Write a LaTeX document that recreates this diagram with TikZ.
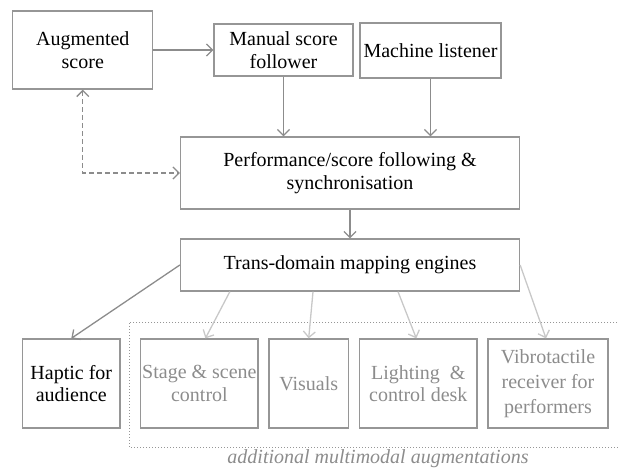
\documentclass[tikz,border=0pt]{standalone}
\usepackage{fontspec}
\setmainfont{Liberation Serif}
\usepackage{xcolor}
\usetikzlibrary{arrows.meta}

\definecolor{boxgray}{RGB}{150,150,150}
\definecolor{arrgray}{RGB}{140,140,140}
\definecolor{lightarr}{RGB}{200,200,200}
\definecolor{lighttext}{RGB}{140,140,140}

\begin{document}
\begin{tikzpicture}[x=1pt,y=-1pt,
    box/.style={draw=boxgray,line width=1.3pt,align=center,inner sep=0pt,
      font=\rmfamily\fontsize{20}{22.5}\selectfont},
    addbox/.style={box,text=lighttext},
    arr/.style={draw=arrgray,line width=1.3pt,-{Straight Barb[length=6pt,width=12pt]}},
    lightarr/.style={arr,draw=lightarr},
    dasharr/.style={arr,dash pattern=on 5pt off 3pt,{Straight Barb[length=6pt,width=12pt]}-{Straight Barb[length=6pt,width=12pt]}}]
                  \useasboundingbox (0,0) rectangle (618,470);
                  % blocks
                  \node[box,minimum width=140pt,minimum height=78pt] (aug) at (82.8,50) {Augmented\\score};
                  \node[box,minimum width=139pt,minimum height=52pt] (manual) at (283.5,50) {Manual score\\follower};
                  \node[box,minimum width=141pt,minimum height=55pt] (machine) at (430.5,50.5) {Machine listener};
                  \node[box,minimum width=339pt,minimum height=72pt] (perf) at (350,173) {Performance/score following \&\\synchronisation};
                  \node[box,minimum width=339pt,minimum height=52pt] (trans) at (350,265) {Trans-domain mapping engines};
                  \node[box,minimum width=97.5pt,minimum height=89pt] (haptic) at (71.3,383.5) {Haptic for\\audience};
                  \node[addbox,minimum width=117.3pt,minimum height=89pt] (stage) at (199.4,383.5) {Stage \& scene\\control};
                  \node[addbox,minimum width=79.4pt,minimum height=89pt] (visuals) at (308.7,383.5) {Visuals};
                  \node[addbox,minimum width=117.5pt,minimum height=89pt] (lighting) at (418.3,383.5) {Lighting~ \&\\control desk};
                  \node[addbox,minimum width=120pt,minimum height=89pt,font=\rmfamily\fontsize{20}{25}\selectfont] (vibro) at (548,383.5) {Vibrotactile\\receiver for\\performers};

                  % group of additional augmentations
                  \draw[boxgray,line width=1pt,dotted] (620,322) -| (129,447) -- (620,447);
                  \node[text=lighttext,font=\rmfamily\itshape\fontsize{20}{22.5}\selectfont] (caption) at (378,459) {additional multimodal augmentations};

                  % connections
                  \path[arr] (aug) -- (manual);
                  \path[arr] (manual) -- (manual |- perf.north);
                  \path[arr] (machine) -- (machine |- perf.north);
                  \path[dasharr] (aug.south) |- (perf.west);
                  \path[arr] (perf) -- (trans);
                  \path[arr] (trans.west) -- (haptic.north);
                  \path[lightarr] ([xshift=50pt]trans.south west) -- ([xshift=6pt]stage.north);
                  \path[lightarr] ([xshift=-37pt]trans.south) -- (visuals.north);
                  \path[lightarr] ([xshift=48pt]trans.south) -- ([xshift=-2pt]lighting.north);
                  \path[lightarr] (trans.east) -- ([xshift=-2pt]vibro.north);
              \end{tikzpicture}
\end{document}
